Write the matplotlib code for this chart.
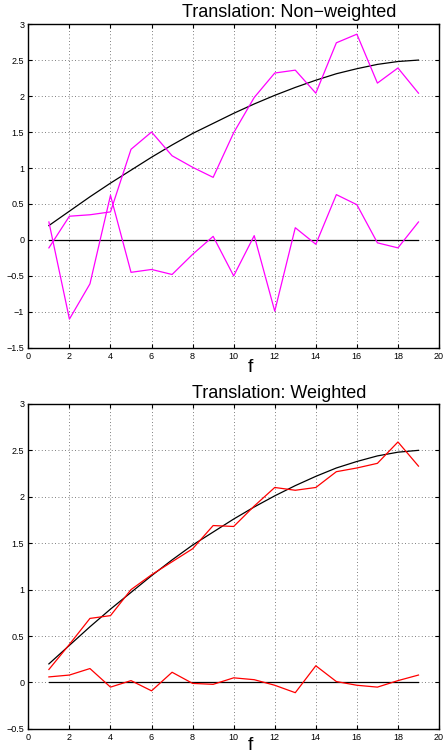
import matplotlib
matplotlib.use('Agg')
import matplotlib.pyplot as plt
import numpy as np

plt.rcParams.update({
    'font.family': ['Liberation Sans', 'DejaVu Sans'],
    'font.size': 6.5,
    'axes.linewidth': 1.0,
    'xtick.direction': 'in',
    'ytick.direction': 'in',
    'xtick.top': True,
    'ytick.right': True,
    'xtick.major.size': 3,
    'ytick.major.size': 3,
})

f = np.arange(1, 20)

# reference curve (same in both panels)
true_curve = [0.20, 0.40, 0.60, 0.79, 0.97, 1.15, 1.32, 1.48, 1.62, 1.76,
              1.89, 2.01, 2.12, 2.22, 2.31, 2.38, 2.44, 2.48, 2.50]
zero_line = [0.0] * 19

# non-weighted estimates
nw_main = [-0.11, 0.33, 0.35, 0.39, 1.26, 1.50, 1.17, 1.01, 0.87, 1.49,
           1.98, 2.32, 2.36, 2.04, 2.74, 2.86, 2.18, 2.39, 2.04]
nw_resid = [0.25, -1.10, -0.61, 0.62, -0.45, -0.41, -0.48, -0.20, 0.05, -0.50,
            0.06, -0.99, 0.17, -0.06, 0.63, 0.49, -0.04, -0.11, 0.25]

# weighted estimates
w_main = [0.14, 0.41, 0.69, 0.72, 1.00, 1.16, 1.30, 1.44, 1.69, 1.68,
          1.90, 2.10, 2.07, 2.10, 2.27, 2.31, 2.36, 2.59, 2.33]
w_resid = [0.06, 0.08, 0.15, -0.05, 0.02, -0.09, 0.11, -0.01, -0.02, 0.05,
           0.03, -0.03, -0.11, 0.18, 0.01, -0.03, -0.05, 0.02, 0.08]


def fmt(v):
    s = '%g' % abs(v)
    return ('\u2212' + s) if v < 0 else s


fig = plt.figure(figsize=(4.43, 7.53), dpi=100)
ax1 = fig.add_axes([0.064, 0.538, 0.927, 0.430])
ax2 = fig.add_axes([0.064, 0.032, 0.927, 0.4316])

panels = [
    (ax1, nw_main, nw_resid, '#ff00ff', (-1.5, 3), np.arange(-1.5, 3.01, 0.5),
     'Translation: Non\u2212weighted', 0.652, 0.977, 0.506),
    (ax2, w_main, w_resid, '#ff0000', (-0.5, 3), np.arange(-0.5, 3.01, 0.5),
     'Translation: Weighted', 0.630, 0.472, 0.004),
]

for ax, main, resid, col, ylim, yt, title, tx, ty, fy in panels:
    ax.plot(f, true_curve, color='black', lw=0.9)
    ax.plot(f, zero_line, color='black', lw=0.9)
    ax.plot(f, main, color=col, lw=0.9)
    ax.plot(f, resid, color=col, lw=0.9)
    ax.set_xlim(0, 20)
    ax.set_ylim(*ylim)
    ax.set_xticks(np.arange(0, 21, 2))
    ax.set_yticks(yt)
    ax.set_yticklabels([fmt(v) for v in yt])
    ax.grid(True, linestyle=(0, (1, 3)), color='#555555', lw=0.6)
    ax.tick_params(labelsize=6.5, pad=3)
    fig.text(tx, ty, title, ha='center', va='baseline', fontsize=13)
    fig.text(0.565, fy, 'f', ha='center', va='baseline', fontsize=14)

fig.savefig('out.png', dpi=100)
